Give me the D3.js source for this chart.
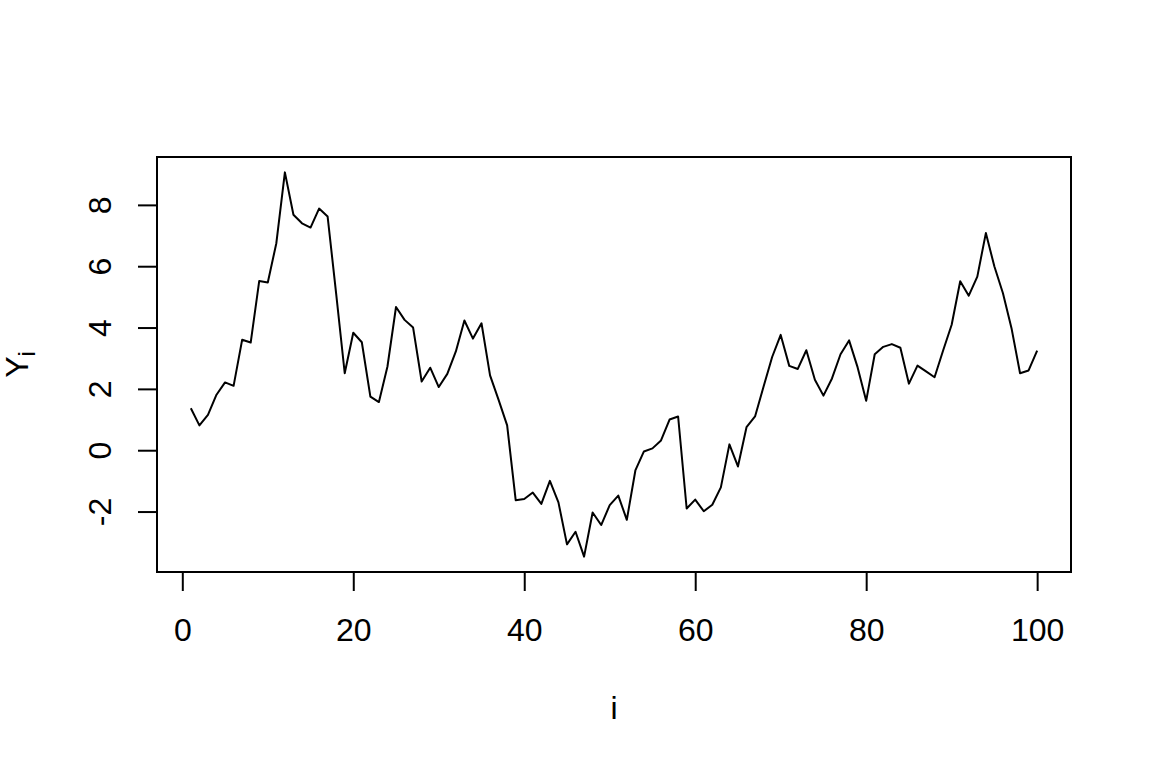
<!DOCTYPE html>
<html>
<head>
<meta charset="utf-8">
<script src="https://cdn.jsdelivr.net/npm/d3@7"></script>
<style>
  body { margin: 0; background: #fff; }
  svg { display: block; font-family: "Liberation Sans", Arial, sans-serif; }
  .box { fill: none; stroke: #000; stroke-width: 2; }
  .series { fill: none; stroke: #000; stroke-width: 2; stroke-linejoin: round; }
  .tick line { stroke: #000; stroke-width: 2; }
  .tick text { font-size: 32px; fill: #000; }
  .title { font-size: 32px; fill: #000; }
</style>
</head>
<body>
<svg width="1152" height="768"></svg>
<script>
// values of Y_i, i = 1..100
var yValues = [
  1.37, 0.81, 1.15, 1.81, 2.21, 2.10, 3.60, 3.51, 5.52, 5.47,
  6.75, 9.06, 7.68, 7.40, 7.26, 7.88, 7.62, 5.10, 2.51, 3.83,
  3.52, 1.75, 1.57, 2.73, 4.67, 4.25, 4.00, 2.24, 2.69, 2.06,
  2.49, 3.22, 4.23, 3.64, 4.14, 2.44, 1.64, 0.81, -1.63, -1.59,
  -1.38, -1.75, -1.00, -1.70, -3.07, -2.66, -3.47, -2.03, -2.44, -1.79,
  -1.48, -2.27, -0.66, -0.04, 0.06, 0.32, 1.00, 1.10, -1.90, -1.61,
  -1.99, -1.78, -1.21, 0.19, -0.53, 0.75, 1.10, 2.08, 3.04, 3.76,
  2.75, 2.65, 3.26, 2.30, 1.78, 2.34, 3.13, 3.58, 2.70, 1.61,
  3.13, 3.37, 3.46, 3.34, 2.17, 2.76, 2.57, 2.38, 3.25, 4.09,
  5.51, 5.04, 5.66, 7.08, 5.99, 5.12, 3.98, 2.51, 2.60, 3.25
];
var xTicks = [0, 20, 40, 60, 80, 100];
var yTicks = [-2, 0, 2, 4, 6, 8];

// plot region, like R's default margins (5.1, 4.1, 4.1, 2.1 lines)
var plot = { left: 157, right: 1071, top: 157, bottom: 572 };

var svg = d3.select("svg");

// R pads the data range by 4% on each side
function padded(lo, hi) {
  var d = (hi - lo) * 0.04;
  return [lo - d, hi + d];
}

// plain hyphen for negatives, as R prints them
function plain(d) { return String(d); }

var x = d3.scaleLinear()
  .domain(padded(1, yValues.length))
  .range([plot.left, plot.right]);

var y = d3.scaleLinear()
  .domain(padded(d3.min(yValues), d3.max(yValues)))
  .range([plot.bottom, plot.top]);

// the series
var line = d3.line()
  .x(function(d, i) { return x(i + 1); })
  .y(function(d) { return y(d); });

svg.append("path")
  .datum(yValues)
  .attr("class", "series")
  .attr("d", line);

// box round the plot
svg.append("rect")
  .attr("class", "box")
  .attr("x", plot.left)
  .attr("y", plot.top)
  .attr("width", plot.right - plot.left)
  .attr("height", plot.bottom - plot.top);

// x axis
var xAxis = svg.append("g")
  .attr("transform", "translate(0," + plot.bottom + ")")
  .call(d3.axisBottom(x).tickValues(xTicks).tickFormat(plain)
    .tickSize(19).tickPadding(27).tickSizeOuter(0));
xAxis.select(".domain").remove();
xAxis.selectAll(".tick text").attr("font-size", null).attr("font-family", null);

// y axis, labels turned like R does
var yAxis = svg.append("g")
  .attr("transform", "translate(" + plot.left + ",0)")
  .call(d3.axisLeft(y).tickValues(yTicks).tickFormat(plain)
    .tickSize(19).tickSizeOuter(0));
yAxis.select(".domain").remove();
yAxis.selectAll(".tick text")
  .attr("font-size", null).attr("font-family", null)
  .attr("x", null).attr("dy", null)
  .attr("text-anchor", "middle")
  .attr("transform", "translate(-46,0) rotate(-90)");

// axis titles
svg.append("text")
  .attr("class", "title")
  .attr("x", (plot.left + plot.right) / 2)
  .attr("y", 719)
  .attr("text-anchor", "middle")
  .text("i");

var ylab = svg.append("text")
  .attr("class", "title")
  .attr("text-anchor", "middle")
  .attr("transform", "translate(28," + (plot.top + plot.bottom) / 2 + ") rotate(-90)");
ylab.append("tspan").text("Y");
ylab.append("tspan").attr("font-size", "24px").attr("dy", 7).text("i");
</script>
</body>
</html>
